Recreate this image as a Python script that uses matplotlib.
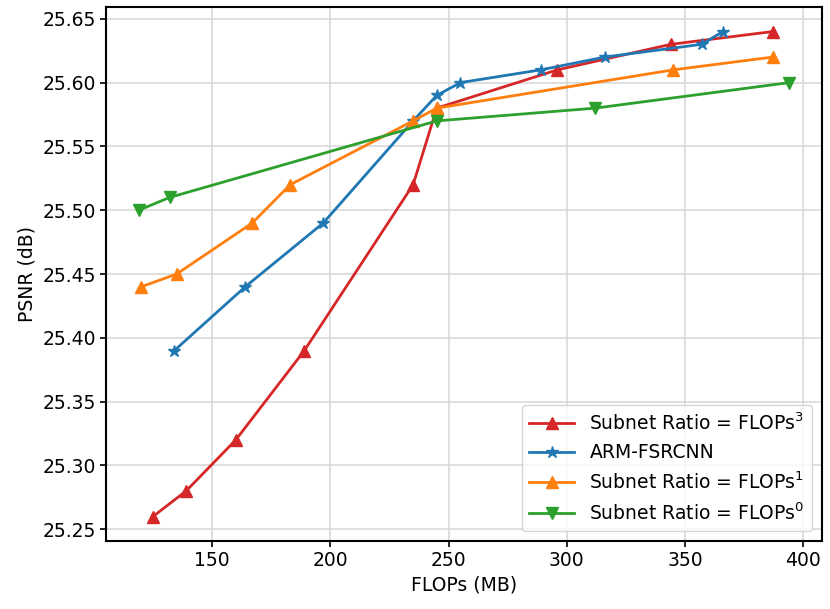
import numpy as np
import matplotlib.pyplot as plt

# FLOPs (MB) and PSNR (dB) for each model family
flops_r3 = [125, 139, 160, 189, 235, 245, 296, 344, 387]
psnr_r3 = [25.26, 25.28, 25.32, 25.39, 25.52, 25.58, 25.61, 25.63, 25.64]

flops_arm = [134, 164, 197, 235, 245, 255, 289, 316, 357, 366]
psnr_arm = [25.39, 25.44, 25.49, 25.57, 25.59, 25.60, 25.61, 25.62, 25.63, 25.64]

flops_r1 = [120, 135, 167, 183, 235, 245, 345, 387]
psnr_r1 = [25.44, 25.45, 25.49, 25.52, 25.57, 25.58, 25.61, 25.62]

flops_r0 = [119, 132, 245, 312, 394]
psnr_r0 = [25.50, 25.51, 25.57, 25.58, 25.60]

plt.rcParams['font.family'] = ['DejaVu Sans']
plt.rcParams['mathtext.fontset'] = 'dejavusans'

fig, ax = plt.subplots(figsize=(8.3, 6.09), dpi=100)

ax.plot(flops_r3, psnr_r3, marker='^', color='tab:red', linewidth=2, markersize=9,
        label='Subnet Ratio = FLOPs$^3$')
ax.plot(flops_arm, psnr_arm, marker='*', color='tab:blue', linewidth=2, markersize=9,
        label='ARM-FSRCNN')
ax.plot(flops_r1, psnr_r1, marker='^', color='tab:orange', linewidth=2, markersize=9,
        label='Subnet Ratio = FLOPs$^1$')
ax.plot(flops_r0, psnr_r0, marker='v', color='tab:green', linewidth=2, markersize=9,
        label='Subnet Ratio = FLOPs$^0$')

ax.set_xlabel('FLOPs (MB)', fontsize=13.5)
ax.set_ylabel('PSNR (dB)', fontsize=13.5)
ax.tick_params(labelsize=13.5, width=1.2, length=4)
ax.grid(True, color='#d9d9d9', linewidth=1.2)
ax.set_axisbelow(True)
for s in ax.spines.values():
    s.set_linewidth(1.5)
ax.legend(loc='lower right', fontsize=13.5, handlelength=2.4)

plt.subplots_adjust(left=0.128, right=0.99, top=0.988, bottom=0.112)
plt.savefig('out.png')
